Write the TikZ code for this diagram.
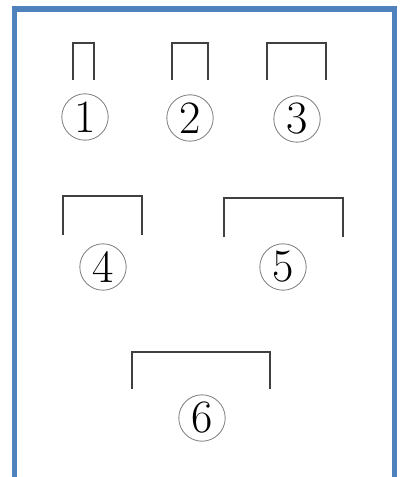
\documentclass[tikz,border=0pt]{standalone}
\usepackage{tikz}
\usetikzlibrary{positioning}
\definecolor{frameblue}{HTML}{4F81BD}
\tikzset{
  frameline/.style={draw=frameblue, line width=3.6pt},
  bracket/.style  ={draw=black!75, line width=1.2pt},
  numlabel/.style ={circle, draw=black!50, line width=0.6pt, minimum size=11.6mm,
                    inner sep=0pt, font=\fontsize{33}{33}\selectfont},
}

\begin{document}
\begin{tikzpicture}[x=0.25mm, y=-0.25mm]
  \useasboundingbox (0,0) rectangle (400,477);
  % open frame, no bottom edge
  \draw[frameline] (14.5,477) -- (14.5,9) -- (394.5,9) -- (394.5,477);
  % first row
  \draw[bracket] (73,80) |- (94,43) -- (94,80);
  \draw[bracket] (172,80) |- (208,43) -- (208,80);
  \draw[bracket] (267,80) |- (326,43) -- (326,80);
  \node[numlabel] (one)   at (85,117)  {1};
  \node[numlabel] (two)   at (190,118) {2};
  \node[numlabel] (three) at (297,119) {3};
  % second row
  \draw[bracket] (63,235) |- (142,196) -- (142,235);
  \draw[bracket] (224,237) |- (343,198) -- (343,237);
  \node[numlabel] (four) at (103,267) {4};
  \node[numlabel] (five) at (283,267) {5};
  % third row
  \draw[bracket] (132,389) |- (270,352) -- (270,389);
  \node[numlabel] (six) at (202,418) {6};
\end{tikzpicture}
\end{document}
